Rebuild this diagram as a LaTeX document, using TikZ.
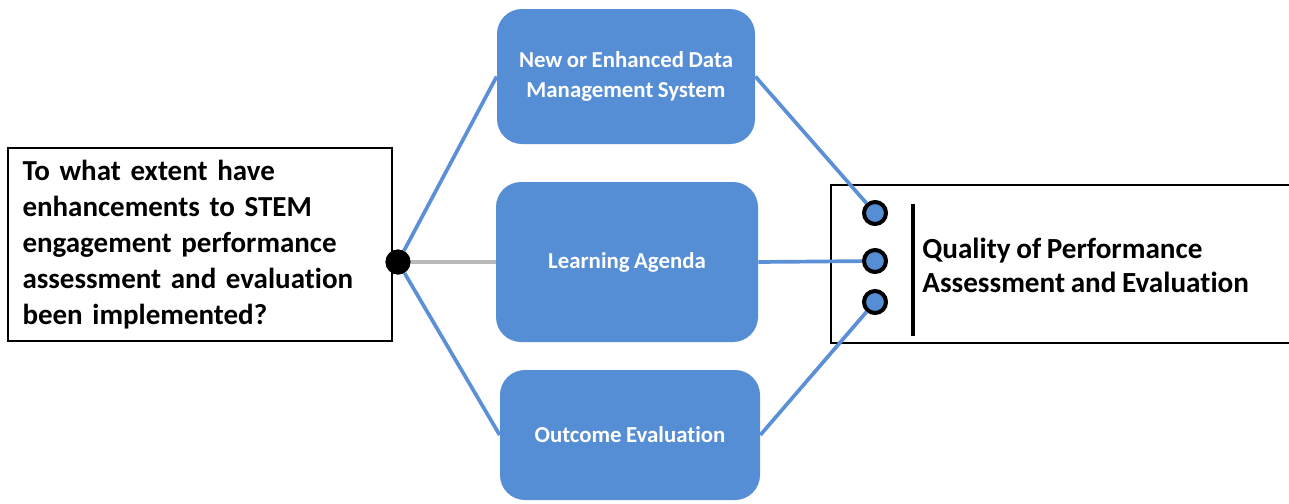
\documentclass[tikz,border=0pt]{standalone}
\usepackage{fontspec}
\setmainfont{Carlito}[Ligatures=NoCommon,WordSpace=0.85]
\usepackage{xcolor}
\definecolor{boxblue}{RGB}{85,142,213}
\definecolor{linkblue}{RGB}{91,143,214}
\tikzset{plain/.style={draw=black,line width=1.3pt,fill=white},
 part/.style={rounded corners=0.5cm,fill=boxblue,text=white,align=center,
   font=\bfseries\fontsize{13}{17}\selectfont},
 link/.style={draw=linkblue,line width=2.1pt},
 port/.style={circle,draw=black,line width=2.3pt,fill=boxblue,minimum size=0.44cm,inner sep=0pt},
 }

\begin{document}
\begin{tikzpicture}
        \useasboundingbox (0,0) rectangle (25.78,10.06);
        % question on the left
        \node[plain, minimum width=7.68cm, minimum height=3.86cm, text width=7.1cm, align=left,
              font=\bfseries\fontsize{16.5}{20.4}\selectfont] (question) at (4.0,5.17)
              {To what extent have\\enhancements to STEM\\engagement performance\\assessment and evaluation\\been implemented?};
        % the three parts
        \node[part, minimum width=5.16cm, minimum height=2.7cm] (datasys) at (12.52,8.53)
              {New or Enhanced Data\\Management System};
        \node[part, minimum width=5.24cm, minimum height=3.2cm] (agenda) at (12.54,4.82) {Learning Agenda};
        \node[part, minimum width=5.2cm, minimum height=2.6cm] (outcome) at (12.6,1.36) {Outcome Evaluation};
        % result on the right
        \draw[plain] (16.62,3.2) rectangle (26.2,6.36);
        \node[port] (in1) at (17.5,5.8) {};
        \node[port] (in2) at (17.5,4.84) {};
        \node[port] (in3) at (17.5,4.02) {};
        \coordinate (bartop) at (18.26,5.98);
        \coordinate (barbot) at (18.26,3.34);
        \draw[line width=1.9pt] (bartop) -- (barbot);
        \node[anchor=west, align=left, inner sep=0pt, font=\bfseries\fontsize{16.6}{19.3}\selectfont] (quality) at (18.44,4.76)
              {Quality of Performance\\Assessment and Evaluation};
        % links
        \node[circle, fill=black, minimum size=0.5cm, inner sep=0pt] (hub) at (7.96,4.82) {};
        \draw[link] (hub) -- (datasys.west);
        \draw[link] (hub) -- (outcome.west);
        \draw[draw=gray!55, line width=2.6pt] (hub) -- (agenda.west);
        \draw[link] (datasys.east) -- (in1);
        \draw[link] (agenda.east) -- (in2);
        \draw[link] (outcome.east) -- (in3);
        \node[circle, fill=black, minimum size=0.5cm, inner sep=0pt] at (hub) {};
    \end{tikzpicture}
\end{document}
